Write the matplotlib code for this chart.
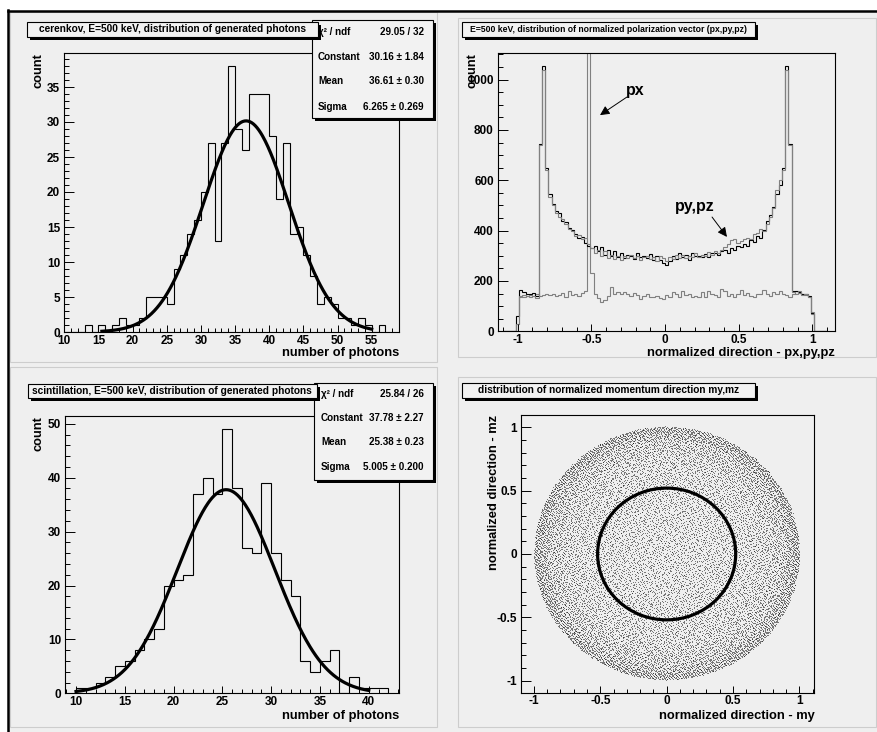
import numpy as np
import matplotlib
matplotlib.use("Agg")
import matplotlib.pyplot as plt
from matplotlib.patches import Rectangle, Circle
from matplotlib.lines import Line2D
from matplotlib.ticker import MultipleLocator, FuncFormatter

plt.rcParams['font.family'] = ['Liberation Sans', 'DejaVu Sans']
plt.rcParams['axes.unicode_minus'] = False

# ---- cerenkov photons (top left) ----
cer_edges = np.arange(10, 58)
cer_counts = [0, 0, 0, 1, 0, 1, 0, 1, 2, 1, 1, 2, 5, 5, 5, 4, 9, 11, 14, 16,
              20, 27, 13, 27, 38, 29, 26, 34, 34, 34, 28, 19, 27, 14, 15, 11,
              8, 4, 5, 4, 2, 2, 1, 2, 1, 0, 1]
cer_const, cer_mean, cer_sigma = 30.16, 36.61, 6.265
cer_fit_range = (15.5, 55.0)
cer_stat_names = ["\u03c7\u00b2 / ndf", "Constant", "Mean", "Sigma"]
cer_stat_vals = ["29.05 / 32", "30.16 \u00b1 1.84", "36.61 \u00b1 0.30", "6.265 \u00b1 0.269"]

# ---- scintillation photons (bottom left) ----
sci_edges = np.arange(10, 43)
sci_counts = [1, 1, 2, 3, 5, 6, 8, 10, 12, 20, 21, 22, 37, 40, 37, 49, 38, 27,
              26, 39, 26, 21, 18, 6, 4, 6, 8, 0, 3, 1, 1, 1]
sci_const, sci_mean, sci_sigma = 37.78, 25.38, 5.005
sci_fit_range = (10.0, 40.0)
sci_stat_names = ["\u03c7\u00b2 / ndf", "Constant", "Mean", "Sigma"]
sci_stat_vals = ["25.84 / 26", "37.78 \u00b1 2.27", "25.38 \u00b1 0.23", "5.005 \u00b1 0.200"]

# ---- polarization components (top right), 100 bins over [-1.1, 1.1] ----
pol_edges = np.linspace(-1.1, 1.1, 101)
px_counts = [0, 0, 0, 0, 28,
             138, 145, 140, 146, 142, 148, 140, 145, 150, 143, 148, 140, 145, 152, 138,
             162, 145, 148, 140, 152, 160, 4000, 232, 148, 132, 118, 126, 140, 175, 150,
             155, 150, 158, 148, 140, 152, 145, 130, 142, 150, 138, 135, 140, 132, 130,
             145, 138, 158, 150, 135, 160, 145, 150, 138, 142, 135, 155, 138, 160, 150,
             145, 138, 168, 160, 142, 150, 138, 148, 165, 145, 152, 140, 135, 148, 150,
             165, 150, 140, 155, 148, 160, 150, 145, 138, 150, 160, 152, 148, 145, 135,
             70, 0, 0, 0, 0]
py_counts = [0, 0, 0, 0, 60,
             165, 158, 150, 148, 152, 142, 745, 1055, 650, 545, 505, 478, 470, 440, 435,
             410, 402, 388, 372, 375, 350, 340, 332, 340, 318, 335, 305, 322, 300, 318,
             296, 312, 290, 305, 300, 288, 310, 296, 300, 290, 306, 282, 298, 285, 270,
             265, 280, 300, 288, 310, 296, 302, 285, 312, 298, 300, 295, 308, 296, 310,
             312, 305, 318, 322, 312, 330, 322, 340, 335, 348, 340, 362, 355, 378, 372,
             402, 440, 462, 495, 545, 580, 650, 1055, 745, 160, 162, 155, 150, 148, 140,
             72, 0, 0, 0, 0]
pz_counts = [0, 0, 0, 0, 30,
             140, 138, 142, 135, 140, 132, 740, 1040, 640, 535, 500, 470, 455, 448, 425,
             405, 398, 380, 382, 365, 370, 345, 330, 312, 325, 300, 318, 290, 305, 288,
             300, 282, 298, 290, 305, 292, 300, 285, 296, 300, 288, 295, 280, 300, 290,
             278, 295, 288, 302, 290, 305, 292, 300, 296, 310, 294, 305, 300, 315, 302,
             318, 310, 322, 335, 345, 362, 368, 350, 358, 365, 372, 368, 385, 390, 405,
             398, 428, 455, 490, 560, 600, 640, 1040, 740, 155, 150, 160, 146, 150, 138,
             75, 0, 0, 0, 0]

# ---- momentum direction (bottom right): radial density profile of the dot cloud ----
ring_edges = [0.0, 0.2, 0.4, 0.6, 0.7, 0.8, 0.9, 0.95, 1.0]
ring_density = [0.75, 0.75, 0.8, 0.85, 0.95, 1.15, 1.5, 1.9]
n_candidates = 36000
cone_radius = 0.52

W, H = 878, 732
fig = plt.figure(figsize=(W / 100, H / 100), dpi=100)
fig.patch.set_facecolor("white")


def rect_px(x0, y0, x1, y1, **kw):
    r = Rectangle((x0 / W, 1 - y1 / H), (x1 - x0) / W, (y1 - y0) / H,
                  transform=fig.transFigure, **kw)
    fig.add_artist(r)
    return r


def line_px(xs, ys, **kw):
    fig.add_artist(Line2D([x / W for x in xs], [1 - y / H for y in ys],
                          transform=fig.transFigure, **kw))


def axes_px(x0, y0, x1, y1):
    return fig.add_axes([x0 / W, 1 - y1 / H, (x1 - x0) / W, (y1 - y0) / H])


def pave(x0, y0, x1, y1, z=5):
    # ROOT style box with a black drop shadow
    rect_px(x0 + 3, y0 + 3, x1 + 3, y1 + 3, fc="black", ec="none", zorder=z)
    rect_px(x0, y0, x1, y1, fc="#f2f2f2", ec="black", lw=0.8, zorder=z + 0.1)


def ftext(x, y, s, **kw):
    fig.text(x / W, 1 - y / H, s, fontweight="bold", **kw)


def radical_inverse(n, base):
    n = n.copy()
    out = np.zeros(len(n))
    f = 1.0 / base
    while n.any():
        out += f * (n % base)
        n //= base
        f /= base
    return out


# canvas and pads
rect_px(9, 11, 878, 732, fc="#efefef", ec="none", zorder=-10)
for (a, b, c, d) in [(10, 12, 437, 362), (458, 18, 876, 357),
                     (10, 367, 437, 727), (458, 377, 876, 727)]:
    rect_px(a, b, c, d, fc="none", ec="#cdcdcd", lw=0.8, zorder=-9)
line_px([8, 878], [11, 11], color="black", lw=1.8, zorder=-8)
line_px([8, 8], [10, 732], color="black", lw=1.8, zorder=-8)

fmt = FuncFormatter(lambda v, p: "%g" % round(v, 6))


def style(ax, xmaj, xmin, ymaj, ymin):
    ax.set_facecolor("none")
    for s in ax.spines.values():
        s.set_linewidth(0.8)
    ax.xaxis.set_major_locator(MultipleLocator(xmaj))
    ax.xaxis.set_minor_locator(MultipleLocator(xmin))
    ax.yaxis.set_major_locator(MultipleLocator(ymaj))
    ax.yaxis.set_minor_locator(MultipleLocator(ymin))
    ax.xaxis.set_major_formatter(fmt)
    ax.yaxis.set_major_formatter(fmt)
    ax.tick_params(axis="x", which="major", direction="in", length=5.2, width=0.7, pad=2,
                   labelsize=8.5)
    ax.tick_params(axis="x", which="minor", direction="in", length=2.7, width=0.7)
    ax.tick_params(axis="y", which="major", direction="in", length=7.2, width=0.7, pad=3,
                   labelsize=8.5)
    ax.tick_params(axis="y", which="minor", direction="in", length=3.6, width=0.7)
    for lab in ax.get_xticklabels() + ax.get_yticklabels():
        lab.set_fontweight("bold")


def labels(ax, xl, yl, xy_x, xy_y):
    ax.set_xlabel(xl, loc="right", fontsize=9.3, fontweight="bold", va="center")
    ax.xaxis.set_label_coords(1.0, xy_x)
    ax.set_ylabel(yl, loc="top", fontsize=9.3, fontweight="bold", va="center")
    ax.yaxis.set_label_coords(xy_y, 1.0)


def gauss_panel(ax, edges, counts, const, mean, sigma, frange):
    ax.stairs(counts, edges, color="black", lw=0.8, baseline=0)
    xs = np.linspace(frange[0], frange[1], 300)
    ax.plot(xs, const * np.exp(-0.5 * ((xs - mean) / sigma) ** 2), color="black", lw=2.3)


# top left
ax1 = axes_px(64.3, 52.7, 399, 332)
gauss_panel(ax1, cer_edges, cer_counts, cer_const, cer_mean, cer_sigma, cer_fit_range)
ax1.set_xlim(10, 59)
ax1.set_ylim(0, 39.9)
style(ax1, 5, 1, 5, 1)
labels(ax1, "number of photons", "count", -0.075, -0.078)

# bottom left
ax3 = axes_px(65.3, 416, 399, 693.3)
gauss_panel(ax3, sci_edges, sci_counts, sci_const, sci_mean, sci_sigma, sci_fit_range)
ax3.set_xlim(8.9, 43.1)
ax3.set_ylim(0, 51.45)
style(ax3, 5, 1, 10, 2)
labels(ax3, "number of photons", "count", -0.082, -0.079)

# top right
ax2 = axes_px(498, 52.7, 835, 331.3)
ax2.stairs(px_counts, pol_edges, color="#808080", lw=0.8, baseline=0)
ax2.stairs(py_counts, pol_edges, color="black", lw=0.8, baseline=0)
ax2.stairs(pz_counts, pol_edges, color="#808080", lw=0.8, baseline=0)
ax2.set_xlim(-1.133, 1.153)
ax2.set_ylim(0, 1107)
style(ax2, 0.5, 0.1, 200, 50)
labels(ax2, "normalized direction - px,py,pz", "count", -0.077, -0.077)
arrow = dict(arrowstyle="-|>", color="black", lw=0.7, mutation_scale=14, shrinkA=0, shrinkB=0)
ax2.annotate("", xy=(-0.441, 859), xytext=(-0.258, 931), arrowprops=arrow)
ax2.text(-0.203, 955, "px", fontsize=11.5, fontweight="bold", ha="center", va="center")
ax2.annotate("", xy=(0.42, 375), xytext=(0.319, 454), arrowprops=arrow)
ax2.text(0.203, 494, "py,pz", fontsize=11.5, fontweight="bold", ha="center", va="center")

# bottom right: quasi-random (Halton) fill thinned to the radial profile above
ax4 = axes_px(521, 415, 814.3, 692.7)
idx = np.arange(1, n_candidates + 1)
my = 2 * radical_inverse(idx, 2) - 1
mz = 2 * radical_inverse(idx, 3) - 1
w = radical_inverse(idx, 5)
r = np.hypot(my, mz)
inside = r < ring_edges[-1]
ring = np.clip(np.searchsorted(ring_edges, r, side="right") - 1, 0, len(ring_density) - 1)
keep = inside & (w < np.array(ring_density)[ring] / max(ring_density))
ax4.plot(my[keep], mz[keep], ",", color="black", alpha=0.5)
ax4.add_patch(Circle((0, 0), cone_radius, fill=False, ec="black", lw=2.3))
ax4.set_xlim(-1.097, 1.112)
ax4.set_ylim(-1.095, 1.097)
style(ax4, 0.5, 0.1, 0.5, 0.1)
labels(ax4, "normalized direction - my", "normalized direction - mz", -0.084, -0.092)

# stat boxes (drawn before titles so titles overlap them)
pave(312, 20, 433, 118, z=5)
for name, val, y in zip(cer_stat_names, cer_stat_vals, [32, 57, 81, 107]):
    ftext(318, y, name, fontsize=7.1, ha="left", va="center", zorder=6)
    ftext(424, y, val, fontsize=7.1, ha="right", va="center", zorder=6)
pave(314, 383, 433, 480, z=5)
for name, val, y in zip(sci_stat_names, sci_stat_vals, [394.3, 418.3, 441.7, 466.7]):
    ftext(321, y, name, fontsize=7.1, ha="left", va="center", zorder=6)
    ftext(424, y, val, fontsize=7.1, ha="right", va="center", zorder=6)

# titles
titles = [((26.7, 21.7, 318, 36.7), "cerenkov, E=500 keV, distribution of generated photons", 7.3),
          ((462.3, 22, 755, 37), "E=500 keV, distribution of normalized polarization vector (px,py,pz)", 6.25),
          ((27.7, 384, 316.7, 398), "scintillation, E=500 keV, distribution of generated photons", 7.25),
          ((462.3, 383, 755, 398), "distribution of normalized momentum direction my,mz", 7.3)]
for (x0, y0, x1, y1), t, fs in titles:
    pave(x0, y0, x1, y1, z=7)
    ftext((x0 + x1) / 2, (y0 + y1) / 2, t, fontsize=fs, ha="center", va="center", zorder=8)

fig.savefig("out.png", dpi=100)
